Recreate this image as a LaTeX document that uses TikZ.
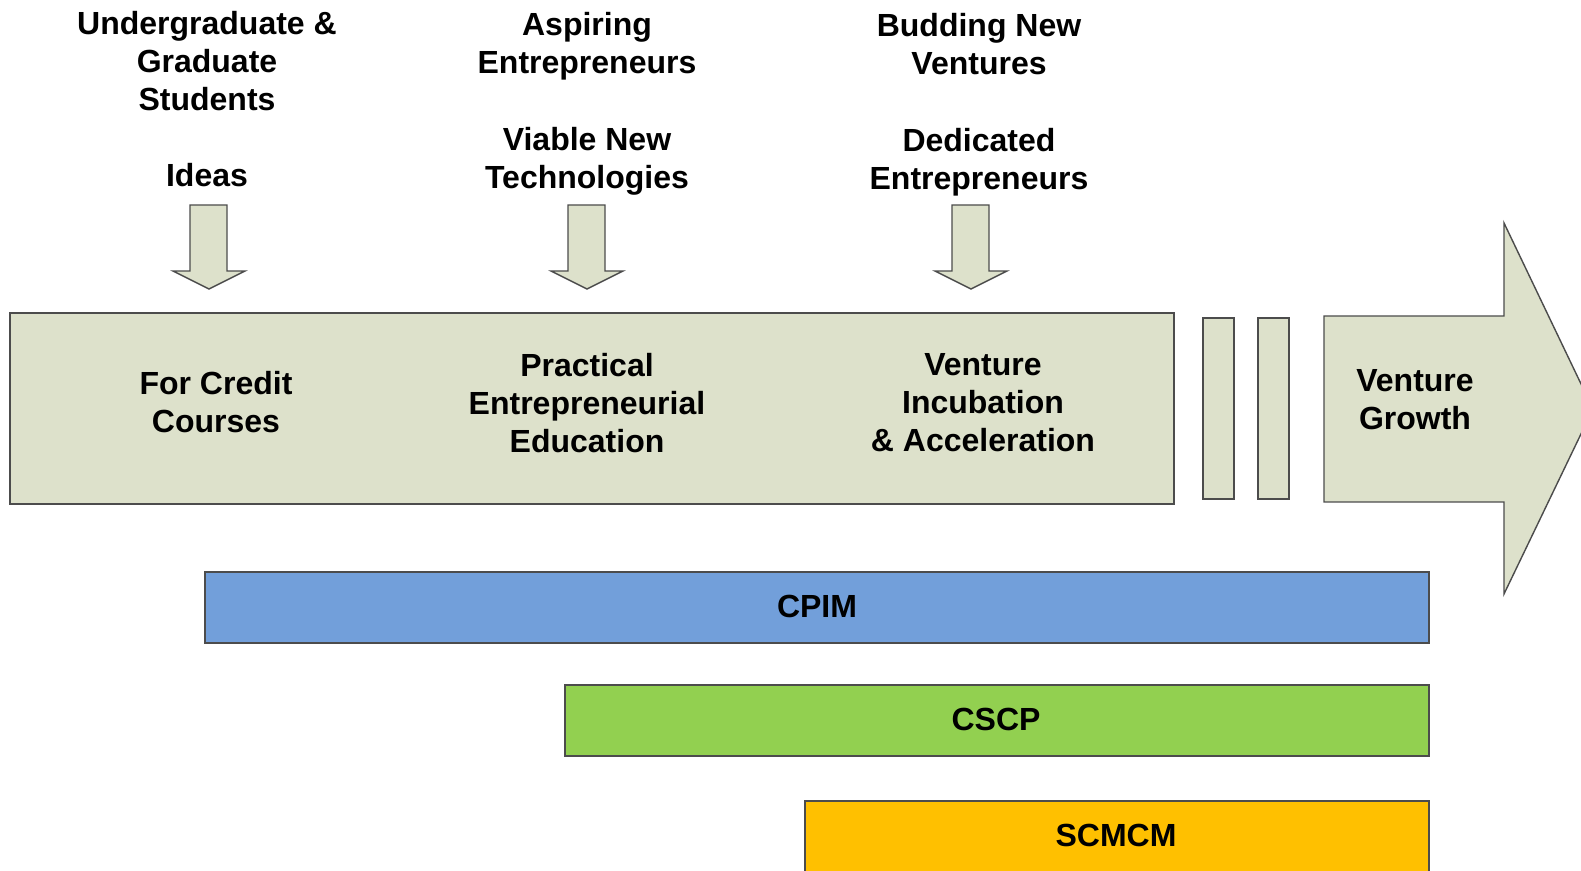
\documentclass[tikz,border=0pt]{standalone}
\usepackage{fontspec}
\setmainfont{Liberation Sans}
\usepackage{xcolor}
\usepackage{tikz}

\definecolor{stagefill}{HTML}{DDE1CB}
\definecolor{cpimblue}{HTML}{729FDA}
\definecolor{cscpgreen}{HTML}{92D050}
\definecolor{scmcmgold}{HTML}{FFC000}

\tikzset{
  stage/.style={draw=black!70, fill=stagefill, line width=0.4pt},
  prog/.style={draw=black!70, line width=0.4pt},
  lbl/.style={align=center, inner sep=0pt, font=\fontsize{9.1}{10.8}\selectfont\bfseries},
}

\begin{document}
\begin{tikzpicture}[x=0.01cm, y=-0.01cm]
        \useasboundingbox (0,0) rectangle (1581,871);
        \clip (0,0) rectangle (1581,871);

        % stage bar, gap bars and growth arrow
        \draw[stage] (10,313) rectangle (1174,504);
        \draw[stage] (1203,318) rectangle (1234,499);
        \draw[stage] (1258,318) rectangle (1289,499);
        \draw[stage] (1324,316) -- (1504,316) -- (1504,223) -- (1593,409)
            -- (1504,594) -- (1504,502) -- (1324,502) -- cycle;

        % input arrows
        \foreach \cx in {209,587,971}
            \draw[stage] (\cx-19,205) -- (\cx+18,205) -- (\cx+18,271) -- (\cx+36,271)
                -- (\cx,289) -- (\cx-36,271) -- (\cx-19,271) -- cycle;

        \node[lbl] (students) at (207,61) {Undergraduate \&\\Graduate\\Students};
        \node[lbl] (ideas) at (207,175) {Ideas};
        \node[lbl] (aspiring) at (587,46) {Aspiring\\Entrepreneurs};
        \node[lbl] (viable) at (587,161) {Viable New\\Technologies};
        \node[lbl] (budding) at (979,44) {Budding New\\Ventures};
        \node[lbl] (dedicated) at (979,162) {Dedicated\\Entrepreneurs};

        \node[lbl] (credit) at (216,402) {For Credit\\Courses};
        \node[lbl] (practical) at (587,403) {Practical\\Entrepreneurial\\Education};
        \node[lbl] (incubation) at (983,403) {Venture\\Incubation\\\& Acceleration};
        \node[lbl] (growth) at (1415,400) {Venture\\Growth};

        % programmes
        \draw[prog, fill=cpimblue] (205,572) rectangle (1429,643);
        \node[lbl] (cpim) at (817,606) {CPIM};
        \draw[prog, fill=cscpgreen] (565,685) rectangle (1429,756);
        \node[lbl] (cscp) at (996,719) {CSCP};
        \draw[prog, fill=scmcmgold] (805,801) rectangle (1429,900);
        \node[lbl] (scmcm) at (1116,835) {SCMCM};
\end{tikzpicture}
\end{document}
